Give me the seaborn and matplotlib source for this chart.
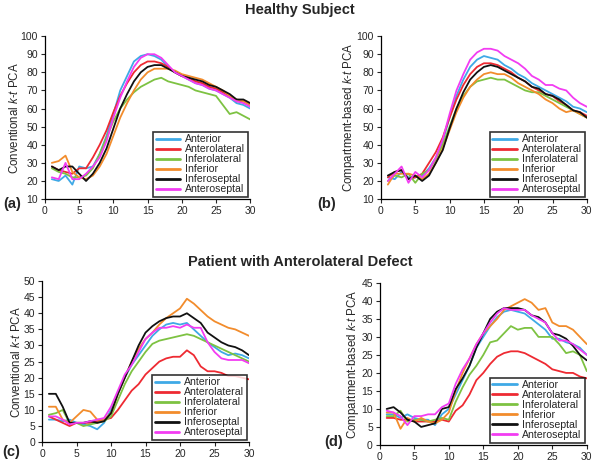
import numpy as np
import pandas as pd
import seaborn as sns
import matplotlib.pyplot as plt

frames = list(range(1, 31))
segments = ['Anterior', 'Anterolateral', 'Inferolateral', 'Inferior', 'Inferoseptal', 'Anteroseptal']
colors = ['#3fa9e6', '#ee2a32', '#7dc242', '#f28c2c', '#111111', '#f23cf2']

# (a) healthy, conventional k-t PCA
healthy_conv = {
    'Anterior':      [21, 20, 23, 18, 28, 27, 28, 35, 45, 57, 70, 78, 86, 89, 90, 89, 87, 83, 80, 78, 76, 74, 73, 71, 70, 68, 66, 63, 62, 60],
    'Anterolateral': [28, 26, 25, 24, 27, 27, 33, 40, 48, 58, 67, 74, 80, 84, 86, 86, 85, 83, 80, 78, 77, 75, 74, 72, 71, 69, 67, 64, 64, 62],
    'Inferolateral': [27, 25, 24, 22, 22, 23, 27, 35, 44, 53, 60, 65, 69, 72, 74, 76, 77, 75, 74, 73, 72, 70, 69, 68, 67, 62, 57, 58, 56, 54],
    'Inferior':      [30, 31, 34, 25, 22, 21, 23, 28, 35, 45, 55, 63, 70, 76, 80, 82, 82, 82, 81, 79, 78, 77, 76, 74, 72, 70, 67, 65, 64, 62],
    'Inferoseptal':  [28, 26, 28, 28, 24, 20, 24, 30, 38, 49, 60, 68, 75, 80, 83, 84, 84, 82, 80, 78, 77, 76, 75, 73, 72, 70, 68, 65, 65, 63],
    'Anteroseptal':  [22, 21, 30, 21, 21, 24, 28, 33, 42, 55, 66, 75, 83, 88, 90, 90, 88, 84, 80, 78, 76, 74, 73, 71, 70, 68, 66, 64, 63, 61],
}

# (b) healthy, compartment-based k-t PCA
healthy_comp = {
    'Anterior':      [22, 21, 25, 22, 22, 23, 27, 33, 42, 55, 67, 76, 83, 87, 89, 88, 87, 84, 82, 79, 77, 74, 72, 70, 68, 66, 64, 61, 60, 58],
    'Anterolateral': [22, 25, 26, 21, 22, 24, 30, 36, 44, 55, 65, 73, 79, 83, 85, 85, 84, 82, 80, 77, 75, 72, 70, 68, 67, 64, 62, 59, 58, 56],
    'Inferolateral': [20, 23, 22, 24, 19, 24, 26, 32, 40, 50, 60, 67, 72, 75, 76, 77, 76, 76, 74, 72, 70, 69, 69, 67, 65, 63, 61, 59, 57, 55],
    'Inferior':      [18, 24, 24, 24, 23, 21, 24, 30, 38, 48, 58, 66, 72, 76, 79, 80, 79, 79, 77, 74, 72, 70, 68, 65, 63, 60, 58, 59, 57, 55],
    'Inferoseptal':  [23, 25, 26, 21, 23, 20, 23, 30, 37, 49, 60, 69, 76, 80, 83, 84, 83, 81, 79, 77, 75, 72, 71, 68, 67, 65, 62, 59, 58, 55],
    'Anteroseptal':  [20, 24, 28, 19, 25, 22, 26, 33, 43, 57, 70, 79, 87, 91, 93, 93, 92, 89, 87, 85, 82, 78, 76, 73, 73, 71, 70, 66, 63, 61],
}

# (c) patient, conventional k-t PCA
patient_conv = {
    'Anterior':      [7, 7, 6.5, 7, 6, 5.5, 5, 4, 6, 10, 15, 20, 24, 27, 30, 33, 35, 36.5, 37, 36.5, 37, 35, 33, 31, 29.5, 28, 27, 27.5, 27, 26],
    'Anterolateral': [8, 7, 6, 5, 6, 6, 6, 6.5, 7, 7.5, 10, 13, 16, 18, 21, 23, 25, 26, 26.5, 26.5, 28.5, 27, 23.5, 22, 22, 21.5, 20.5, 20.5, 20, 19.5],
    'Inferolateral': [8.5, 9, 10, 6, 6, 5, 5.5, 6, 6.5, 8, 13, 18, 22, 25, 28, 30.5, 31.5, 32, 32.5, 33, 33.5, 33, 32, 31, 30, 29, 28, 27, 26, 25],
    'Inferior':      [11, 11, 7, 6, 8, 10, 9.5, 7, 7, 9, 15, 20, 25, 29, 32, 34, 36.5, 38.5, 40, 41.5, 44.5, 43, 41, 39, 37.5, 36.5, 35.5, 35, 34, 33],
    'Inferoseptal':  [15, 15, 11, 6, 6, 6, 6.5, 6, 6.5, 9, 15, 20, 25, 30, 34, 36, 37.5, 38.5, 39, 39, 40, 38.5, 37, 34, 32.5, 31, 30, 29.5, 28.5, 27],
    'Anteroseptal':  [8, 8, 7, 5.5, 6, 6, 6.5, 7, 7.5, 11, 16, 21, 24, 28, 32, 34, 35.5, 35.5, 36, 35.5, 36.5, 35.5, 35.5, 31, 28, 26, 25.5, 25.5, 25.5, 24.5],
}

# (d) patient, compartment-based k-t PCA
patient_comp = {
    'Anterior':      [8.5, 8.5, 7.5, 8.5, 7.5, 7, 7, 5.5, 8.5, 10, 14, 18, 22, 27, 30, 33, 35.5, 37, 37.5, 37, 36.5, 35, 33.5, 32, 29.5, 29.5, 28.5, 28, 27, 25],
    'Anterolateral': [7.5, 7.5, 7, 7, 6.5, 6.5, 6.5, 6.5, 7, 6.5, 9.5, 11, 14, 18, 20, 22.5, 24.5, 25.5, 26, 26, 25.5, 24.5, 23.5, 22.5, 21, 20.5, 20, 20, 19, 18.5],
    'Inferolateral': [8, 8, 9.5, 6.5, 7, 7, 6.5, 7, 7.5, 7, 12, 16, 19.5, 22, 25, 28.5, 29, 31, 33, 32, 32.5, 32.5, 30, 30, 30, 28, 25.5, 26, 25, 20.5],
    'Inferior':      [9, 9, 4.5, 7.5, 6.5, 7.5, 6.5, 6, 7, 9, 15, 20, 24, 28, 31, 33, 35, 37.5, 38.5, 39.5, 40.5, 39.5, 37.5, 38, 34, 33, 33, 32, 30, 28],
    'Inferoseptal':  [10, 10.5, 9, 7, 6.5, 5, 5.5, 6, 10, 10.5, 15.5, 18.5, 22, 27, 31, 35, 37, 38, 38, 38, 37.5, 36, 35.5, 34, 31, 30.5, 29.5, 27.5, 25, 23.5],
    'Anteroseptal':  [9.5, 9, 8, 5.5, 8, 8, 8.5, 8.5, 10.5, 11.5, 17, 21, 24, 28, 31, 34, 36.5, 38, 37.5, 37.5, 37.5, 36, 35, 34, 31, 29, 29, 28, 26.5, 25],
}


def to_long(d):
    rows = []
    for seg in segments:
        for f, v in zip(frames, d[seg]):
            rows.append((f, v, seg))
    return pd.DataFrame(rows, columns=['frame', 'value', 'segment'])


sns.set_style('ticks')
plt.rcParams['font.family'] = ['Liberation Sans', 'DejaVu Sans']
plt.rcParams['mathtext.fontset'] = 'custom'
plt.rcParams['mathtext.it'] = 'Liberation Sans:italic'
plt.rcParams['mathtext.rm'] = 'Liberation Sans'

fig = plt.figure(figsize=(6, 4.63), dpi=100)

# data, axes rect, y label, y range, panel tag, tag x offset, tag y offset
panels = [
    (healthy_conv, [0.075, 0.570, 0.342, 0.352], 'Conventional $k$-$t$ PCA', (10, 100, 10), '(a)', -0.205, -0.03),
    (healthy_comp, [0.635, 0.570, 0.343, 0.352], 'Compartment-based $k$-$t$ PCA', (10, 100, 10), '(b)', -0.31, -0.03),
    (patient_conv, [0.070, 0.045, 0.345, 0.348], 'Conventional $k$-$t$ PCA', (0, 50, 5), '(c)', -0.19, -0.06),
    (patient_comp, [0.633, 0.039, 0.345, 0.350], 'Compartment-based $k$-$t$ PCA', (0, 45, 5), '(d)', -0.27, 0.02),
]

for data, rect, ylabel, (y0, y1, ystep), tag, tx, ty in panels:
    ax = fig.add_axes(rect)
    sns.lineplot(data=to_long(data), x='frame', y='value', hue='segment',
                 hue_order=segments, palette=colors, linewidth=1.3, ax=ax)
    ax.set_xlim(0, 30)
    ax.set_ylim(y0, y1)
    ax.set_xticks(range(0, 31, 5))
    ax.set_yticks(np.arange(y0, y1 + 0.1, ystep))
    ax.tick_params(labelsize=7.5, length=3, width=0.8, pad=2)
    ax.set_xlabel('')
    ax.set_ylabel(ylabel, fontsize=8.3, labelpad=0)
    sns.despine(ax=ax)
    for s in ['left', 'bottom']:
        ax.spines[s].set_linewidth(0.9)
        ax.spines[s].set_color('black')
    leg = ax.legend(loc='lower right', fontsize=7.6, frameon=True, fancybox=False,
                    handlelength=2.3, handletextpad=0.5, labelspacing=0.0,
                    borderpad=0.25, borderaxespad=0.2)
    leg.get_frame().set_edgecolor('black')
    leg.get_frame().set_linewidth(1.2)
    for line in leg.get_lines():
        line.set_linewidth(2)
    ax.text(tx, ty, tag, transform=ax.transAxes,
            fontsize=10.5, fontweight='bold', ha='left', va='center')

fig.text(0.5, 0.978, 'Healthy Subject', ha='center', va='center', fontsize=10.5, fontweight='bold')
fig.text(0.5, 0.434, 'Patient with Anterolateral Defect', ha='center', va='center', fontsize=10.5, fontweight='bold')

plt.savefig('out.png', dpi=100)
plt.close()
